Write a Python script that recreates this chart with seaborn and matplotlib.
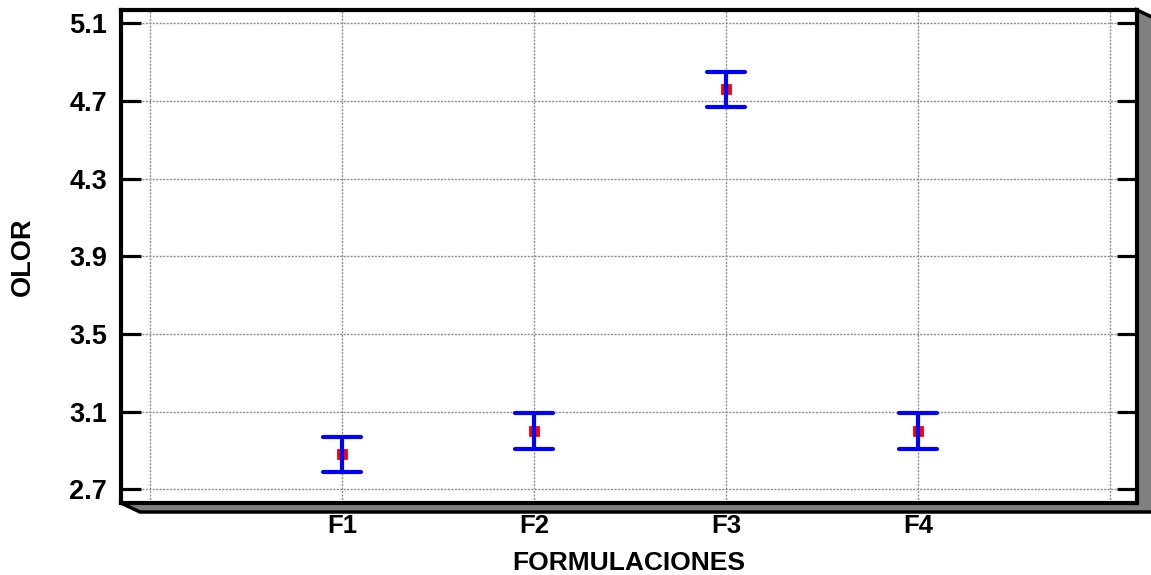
import numpy as np
import pandas as pd
import matplotlib
matplotlib.use("Agg")
import matplotlib.pyplot as plt
from matplotlib.patches import Polygon
import seaborn as sns

# means plot values
formulaciones = ["F1", "F2", "F3", "F4"]
olor_media = [2.88, 3.00, 4.76, 3.00]
olor_semi = [0.092, 0.092, 0.092, 0.092]
y_ticks = [2.7, 3.1, 3.5, 3.9, 4.3, 4.7, 5.1]

# long table: low and high end of each interval, mean sits in the middle
rows = []
for f, m, h in zip(formulaciones, olor_media, olor_semi):
    rows.append({"FORMULACIONES": f, "OLOR": m - h})
    rows.append({"FORMULACIONES": f, "OLOR": m + h})
df = pd.DataFrame(rows)

sns.set_style("ticks")
plt.rcParams["font.family"] = ["Liberation Sans", "DejaVu Sans"]
plt.rcParams["font.weight"] = "bold"
plt.rcParams["text.color"] = "black"
plt.rcParams["axes.labelcolor"] = "black"
plt.rcParams["xtick.color"] = "black"
plt.rcParams["ytick.color"] = "black"

W, H = 1151, 575
fig = plt.figure(figsize=(W / 100, H / 100), dpi=100)
ax = fig.add_axes([121 / W, 1 - 503 / H, (1137 - 121) / W, (503 - 10) / H])

order = [""] + formulaciones + [" "]
sns.pointplot(data=df, x="FORMULACIONES", y="OLOR", order=order,
              estimator="mean", errorbar=lambda v: (v.min(), v.max()),
              linestyle="none", markers="s", markersize=6, color="red",
              capsize=0.2,
              err_kws={"color": "blue", "linewidth": 3, "zorder": 4},
              ax=ax)

ax.set_xlim(-0.151, 5.14)
ax.set_ylim(2.630, 5.169)
ax.set_xticks(range(len(order)))
ax.set_xticklabels(order)
ax.set_yticks(y_ticks)
ax.set_yticklabels([f"{t:.1f}" for t in y_ticks])

ax.grid(True, color="#8c8c8c", linestyle=(0, (1.5, 1)), linewidth=1)
ax.set_axisbelow(True)

for s in ax.spines.values():
    s.set_visible(True)
    s.set_linewidth(3)
    s.set_color("black")

ax.tick_params(axis="y", direction="in", length=14.5, width=2.3,
               left=True, right=True, labelsize=19.5, pad=10,
               colors="black")
ax.tick_params(axis="x", length=0, labelsize=18.5, pad=8, colors="black")

ax.set_xlabel("FORMULACIONES", fontsize=19, fontweight="bold",
              color="black")
ax.xaxis.set_label_coords(0.5, -0.098)
ax.set_ylabel("OLOR", fontsize=19.5, fontweight="bold", color="black")
ax.yaxis.set_label_coords(-0.084, 0.5)

# 3D-style gray shadow behind the frame
x0, x1, yt, yb = 121, 1137, 10, 503
dx, dy = 19, 9
pts = [(x1, yt), (x1 + dx, yt + dy), (x1 + dx, yb + dy), (x0 + dx, yb + dy),
       (x0, yb), (x1, yb)]
pts = [(px / W, 1 - py / H) for px, py in pts]
shadow = Polygon(pts, closed=True, facecolor="#808080", edgecolor="black",
                 linewidth=2.5, transform=fig.transFigure, zorder=-1)
fig.add_artist(shadow)

fig.savefig("out.png", dpi=100, facecolor="white")
